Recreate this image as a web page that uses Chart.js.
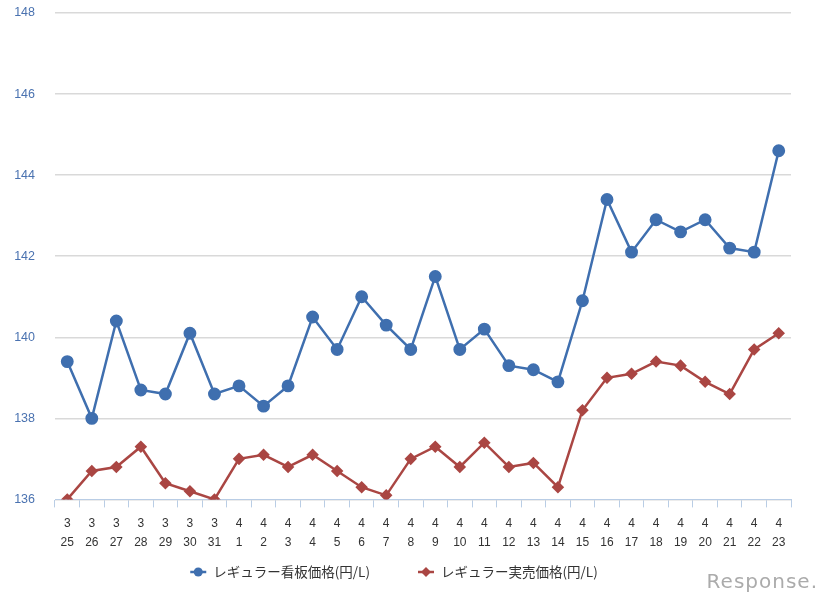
<!DOCTYPE html>
<html>
<head>
<meta charset="utf-8">
<script src="https://cdn.jsdelivr.net/npm/chart.js@4.4.1/dist/chart.umd.min.js"></script>
<style>
  html, body { margin: 0; padding: 0; background: #fff; }
  #wrap { width: 831px; height: 605px; position: relative; }
</style>
</head>
<body>
<div id="wrap"><canvas id="price-chart"></canvas></div>
<script>
"use strict";

// data
var months = ["3","3","3","3","3","3","3","4","4","4","4","4","4","4","4","4","4","4","4","4","4","4","4","4","4","4","4","4","4","4"];
var days = ["25","26","27","28","29","30","31","1","2","3","4","5","6","7","8","9","10","11","12","13","14","15","16","17","18","19","20","21","22","23"];
var signPrice = [139.4, 138.0, 140.4, 138.7, 138.6, 140.1, 138.6, 138.8, 138.3, 138.8, 140.5, 139.7, 141.0, 140.3, 139.7, 141.5, 139.7, 140.2, 139.3, 139.2, 138.9, 140.9, 143.4, 142.1, 142.9, 142.6, 142.9, 142.2, 142.1, 144.6];
var salePrice = [136.0, 136.7, 136.8, 137.3, 136.4, 136.2, 136.0, 137.0, 137.1, 136.8, 137.1, 136.7, 136.3, 136.1, 137.0, 137.3, 136.8, 137.4, 136.8, 136.9, 136.3, 138.2, 139.0, 139.1, 139.4, 139.3, 138.9, 138.6, 139.7, 140.1];
var seriesNames = ["レギュラー看板価格(円/L)", "レギュラー実売価格(円/L)"];
var yMin = 136, yMax = 148, yStep = 2;

var BLUE = '#3f6faf';
var RED = '#aa4643';

var labels = months.map(function(m, i){ return [m, days[i]]; });

// legend drawn by hand: line + marker, then the dataset label
var bottomLegend = {
	id: 'bottomLegend',
	afterDraw: function(chart){
		var g = chart.ctx;
		var y = 572, gap = 48, lineW = 16, textGap = 7;
		g.save();
		g.font = '13.5px "Noto Sans CJK JP"';
		g.textBaseline = 'middle';
		var sets = chart.data.datasets;
		var widths = sets.map(function(ds){ return lineW + textGap + g.measureText(ds.label).width; });
		var total = widths[0] + widths[1] + gap;
		var x = 394 - total / 2;
		sets.forEach(function(ds, i){
			g.strokeStyle = ds.borderColor; g.fillStyle = ds.borderColor; g.lineWidth = 2.5;
			g.beginPath(); g.moveTo(x, y); g.lineTo(x + lineW, y); g.stroke();
			var cx = x + lineW / 2;
			g.beginPath();
			if (ds.pointStyle === 'circle') {
				g.arc(cx, y, 4.5, 0, Math.PI * 2);
			} else {
				g.moveTo(cx, y - 5); g.lineTo(cx + 5, y); g.lineTo(cx, y + 5); g.lineTo(cx - 5, y); g.closePath();
			}
			g.fill();
			g.fillStyle = '#333';
			g.fillText(ds.label, x + lineW + textGap, y);
			x += widths[i] + gap;
		});
		// watermark
		g.fillStyle = '#ababab';
		g.font = '20px "DejaVu Sans"';
		g.letterSpacing = '1px';
		g.textAlign = 'right';
		g.fillText('Response.', 818, 583);
		g.restore();
	}
};

var ctx = document.getElementById("price-chart");
var priceChart = new Chart(ctx, {
	type: 'line',
	data: {
		labels: labels,
		datasets: [{
			label: seriesNames[0],
			data: signPrice,
			borderColor: BLUE,
			backgroundColor: BLUE,
			borderWidth: 2.5,
			pointStyle: 'circle',
			pointRadius: 5.2,
			pointHoverRadius: 5.2,
			tension: 0
		}, {
			label: seriesNames[1],
			data: salePrice,
			borderColor: RED,
			backgroundColor: RED,
			borderWidth: 2.5,
			pointStyle: 'rectRot',
			pointRadius: 4.5,
			pointHoverRadius: 4.5,
			tension: 0
		}]
	},
	options: {
		responsive: true,
		maintainAspectRatio: false,
		animation: false,
		layout: { padding: { top: 13, right: 40, left: 0, bottom: 46 } },
		plugins: {
			tooltip: { enabled: false },
			legend: { display: false }
		},
		scales: {
			x: {
				offset: true,
				border: { color: '#b9cde5', width: 1 },
				grid: { offset: true, drawOnChartArea: false, color: '#b9cde5', tickLength: 8 },
				ticks: {
					autoSkip: false,
					maxRotation: 0,
					color: '#333',
					padding: 6,
					font: { family: '"Liberation Sans"', size: 12, lineHeight: 1.65 }
				}
			},
			y: {
				min: yMin,
				max: yMax,
				afterFit: function(scale){
					scale.width = 55;
					scale.paddingTop = 0;
					scale.paddingBottom = 0;
				},
				border: { display: false },
				grid: { color: '#d9d9d9', lineWidth: 1.5, drawTicks: false },
				ticks: {
					stepSize: yStep,
					color: '#4a72b0',
					padding: 20,
					font: { family: '"Liberation Sans"', size: 12.5 }
				}
			}
		}
	},
	plugins: [bottomLegend]
});
</script>
</body>
</html>
